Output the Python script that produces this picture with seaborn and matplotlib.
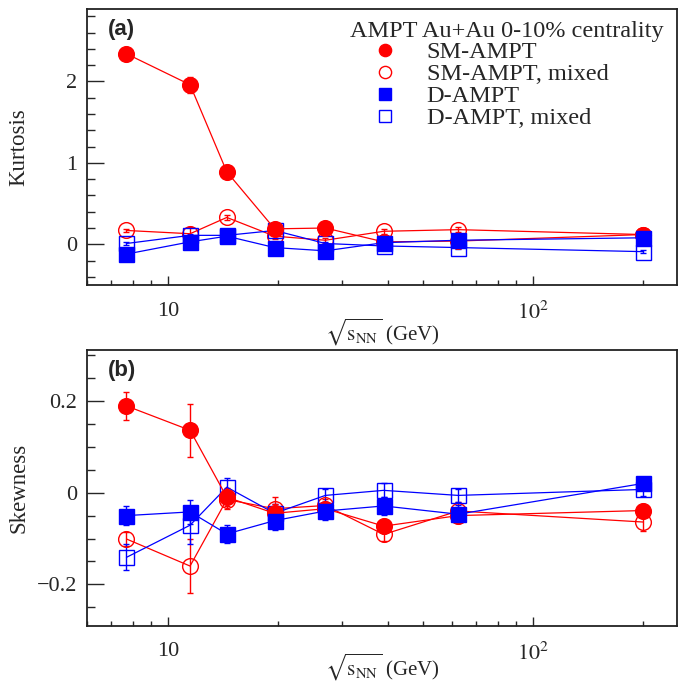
import matplotlib
matplotlib.use("Agg")
import matplotlib.pyplot as plt
from matplotlib.lines import Line2D
from matplotlib.ticker import NullFormatter, MultipleLocator, LogLocator, FuncFormatter
import numpy as np
import seaborn as sns

# collision energies (GeV)
energies = [7.7, 11.5, 14.5, 19.6, 27, 39, 62.4, 200]

# kurtosis
kurt_sm = [2.34, 1.96, 0.89, 0.19, 0.20, 0.03, 0.04, 0.12]
kurt_sm_err = [0.03, 0.10, 0.03, 0.03, 0.03, 0.03, 0.03, 0.03]
kurt_smmix = [0.17, 0.13, 0.33, 0.10, 0.05, 0.16, 0.18, 0.12]
kurt_smmix_err = [0.02, 0.08, 0.03, 0.03, 0.03, 0.03, 0.03, 0.03]
kurt_d = [-0.12, 0.03, 0.10, -0.04, -0.08, 0.02, 0.05, 0.08]
kurt_d_err = [0.02, 0.02, 0.02, 0.02, 0.02, 0.02, 0.02, 0.02]
kurt_dmix = [0.01, 0.11, 0.11, 0.17, 0.01, -0.02, -0.04, -0.09]
kurt_dmix_err = [0.02, 0.02, 0.02, 0.02, 0.02, 0.02, 0.02, 0.02]

# skewness
skew_sm = [0.189, 0.136, -0.010, -0.045, -0.035, -0.073, -0.050, -0.039]
skew_sm_err = [0.030, 0.058, 0.020, 0.020, 0.015, 0.015, 0.015, 0.015]
skew_smmix = [-0.101, -0.160, -0.015, -0.035, -0.028, -0.091, -0.040, -0.064]
skew_smmix_err = [0.015, 0.058, 0.020, 0.025, 0.015, 0.015, 0.020, 0.020]
skew_d = [-0.050, -0.042, -0.090, -0.061, -0.040, -0.029, -0.047, 0.020]
skew_d_err = [0.020, 0.026, 0.020, 0.020, 0.020, 0.020, 0.020, 0.010]
skew_dmix = [-0.141, -0.071, 0.012, -0.045, -0.006, 0.005, -0.006, 0.007]
skew_dmix_err = [0.028, 0.040, 0.020, 0.020, 0.015, 0.015, 0.015, 0.015]

labels = ["SM-AMPT", "SM-AMPT, mixed", "D-AMPT", "D-AMPT, mixed"]

sns.set_style("ticks")
plt.rcParams["font.family"] = ["Liberation Serif", "DejaVu Serif"]
plt.rcParams["mathtext.fontset"] = "stix"

RED = "#ff0000"
BLUE = "#0000ff"

# style per series
styles = {
    "SM-AMPT, mixed": dict(color=RED, marker="o", mfc="none", ms=11.3),
    "D-AMPT, mixed": dict(color=BLUE, marker="s", mfc="none", ms=10.8),
    "SM-AMPT": dict(color=RED, marker="o", mfc=RED, ms=11.3),
    "D-AMPT": dict(color=BLUE, marker="s", mfc=BLUE, ms=10.8),
}


def fmt_y(v, pos):
    s = "%g" % round(v, 6)
    return s.replace("-", "\u2212")


def draw_panel(ax, series, ylim, ylabel, major, minor, tag, xlab_y):
    for name in ["SM-AMPT, mixed", "D-AMPT, mixed", "SM-AMPT", "D-AMPT"]:
        y, err = series[name]
        st = styles[name]
        ax.errorbar(energies, y, yerr=err, fmt="none", ecolor=st["color"],
                    elinewidth=1, capsize=2, capthick=1, zorder=2)
        sns.lineplot(x=energies, y=y, ax=ax, color=st["color"], lw=0.9,
                     marker=st["marker"], markersize=st["ms"],
                     markerfacecolor=st["mfc"], markeredgecolor=st["color"],
                     markeredgewidth=1.0, zorder=3)
    ax.set_xscale("log")
    ax.set_xlim(6, 248)
    ax.set_ylim(*ylim)
    ax.set_xticks([10, 100], labels=["10", r"$10^{2}$"])
    ax.xaxis.set_minor_locator(LogLocator(base=10, subs=np.arange(2, 10)))
    ax.xaxis.set_minor_formatter(NullFormatter())
    ax.yaxis.set_major_locator(MultipleLocator(major))
    ax.yaxis.set_minor_locator(MultipleLocator(minor))
    ax.yaxis.set_major_formatter(FuncFormatter(fmt_y))
    ax.tick_params(axis="x", which="major", direction="in", length=6.5,
                   width=1, labelsize=16, pad=12)
    ax.tick_params(axis="x", which="minor", direction="in", length=3.6, width=1)
    ax.tick_params(axis="y", which="major", direction="in", length=12,
                   width=1, labelsize=16, pad=7)
    ax.tick_params(axis="y", which="minor", direction="in", length=6, width=1)
    for sp in ax.spines.values():
        sp.set_visible(True)
        sp.set_linewidth(1.3)
        sp.set_color("#222222")
    ax.set_xlabel(r"$\sqrt{\mathrm{s}_{\mathrm{NN}}}$ (GeV)", fontsize=15)
    ax.xaxis.set_label_coords(0.5, xlab_y)
    ax.set_ylabel(ylabel, fontsize=16.5)
    ax.yaxis.set_label_coords(-0.097, 0.5)
    ax.text(0.035, 0.965, tag, transform=ax.transAxes, fontsize=16,
            fontweight="bold", family="Liberation Sans", va="top", ha="left")


fig = plt.figure(figsize=(6.79, 6.83), dpi=100)
ax1 = fig.add_axes([0.128, 0.5827, 0.869, 0.4041])
ax2 = fig.add_axes([0.128, 0.0839, 0.869, 0.4037])

draw_panel(ax1, {
    "SM-AMPT": (kurt_sm, kurt_sm_err),
    "SM-AMPT, mixed": (kurt_smmix, kurt_smmix_err),
    "D-AMPT": (kurt_d, kurt_d_err),
    "D-AMPT, mixed": (kurt_dmix, kurt_dmix_err),
}, (-0.5, 2.89), "Kurtosis", 1, 0.2, "(a)", -0.115)

draw_panel(ax2, {
    "SM-AMPT": (skew_sm, skew_sm_err),
    "SM-AMPT, mixed": (skew_smmix, skew_smmix_err),
    "D-AMPT": (skew_d, skew_d_err),
    "D-AMPT, mixed": (skew_dmix, skew_dmix_err),
}, (-0.29, 0.311), "Skewness", 0.2, 0.05, "(b)", -0.094)

handles = []
for name in labels:
    st = styles[name]
    handles.append(Line2D([], [], ls="none", marker=st["marker"], markersize=8.8,
                          color=st["color"], markerfacecolor=st["mfc"],
                          markeredgewidth=1.0))
leg = ax1.legend(handles, labels, title="AMPT Au+Au 0-10% centrality",
                 loc="upper left", bbox_to_anchor=(0.446, 0.955), frameon=False,
                 fontsize=17.5, title_fontsize=17.5, alignment="left",
                 handletextpad=0.25, labelspacing=0.0, borderpad=0.0,
                 borderaxespad=0.0, handlelength=2.9)
leg._legend_box.sep = -1

fig.savefig("out.png", dpi=100)
